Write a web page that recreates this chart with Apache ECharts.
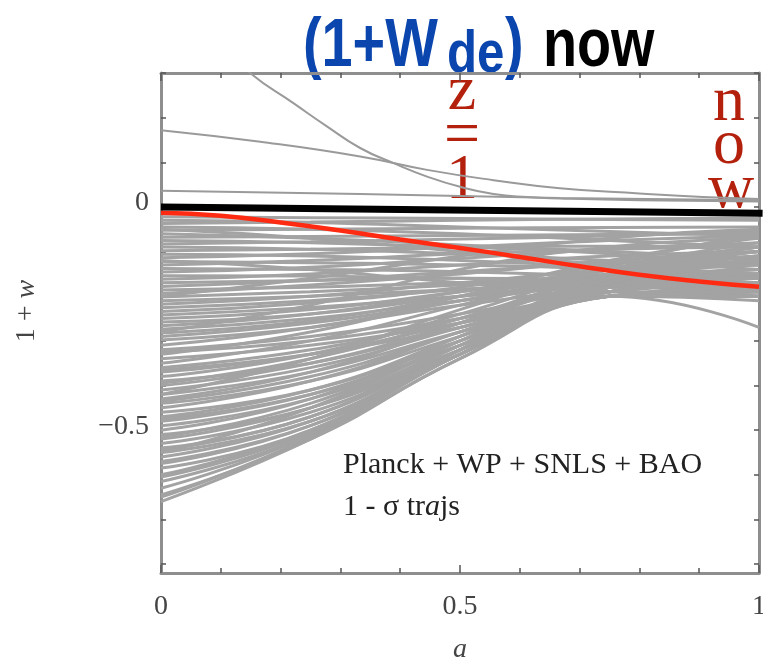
<!DOCTYPE html>
<html>
<head>
<meta charset="utf-8">
<script src="https://cdn.jsdelivr.net/npm/echarts@6/dist/echarts.min.js"></script>
<style>
  html, body { margin: 0; padding: 0; background: #fff; }
  #chart { width: 763px; height: 659px; }
</style>
</head>
<body>
<div id="chart"></div>
<script>
// sample points in a for the bundle of 1-sigma trajectories
const aGrid = [0, 0.25, 0.5, 0.75, 1];

// 1 + w at aGrid (upper, nearly flat group)
const upperTrajs = [
  [-0.022, -0.024, -0.026, -0.028, -0.03],
  [-0.03, -0.035, -0.045, -0.055, -0.065],
  [-0.037, -0.034, -0.03, -0.027, -0.025],
  [-0.045, -0.05, -0.06, -0.075, -0.09],
  [-0.052, -0.05, -0.048, -0.046, -0.045],
  [-0.06, -0.07, -0.085, -0.1, -0.115],
  [-0.068, -0.066, -0.064, -0.062, -0.06],
  [-0.075, -0.08, -0.09, -0.105, -0.13],
  [-0.083, -0.078, -0.072, -0.065, -0.055],
  [-0.09, -0.095, -0.105, -0.12, -0.14],
  [-0.098, -0.095, -0.09, -0.088, -0.09],
  [-0.106, -0.11, -0.12, -0.135, -0.155],
  [-0.114, -0.105, -0.09, -0.075, -0.065],
  [-0.122, -0.125, -0.13, -0.14, -0.16],
  [-0.13, -0.12, -0.105, -0.095, -0.09],
  [-0.138, -0.14, -0.145, -0.155, -0.17],
  [-0.146, -0.135, -0.115, -0.095, -0.08],
  [-0.154, -0.155, -0.16, -0.17, -0.18],
  [-0.162, -0.15, -0.13, -0.11, -0.1],
  [-0.17, -0.165, -0.16, -0.165, -0.185],
  [-0.178, -0.165, -0.145, -0.125, -0.115],
  [-0.186, -0.18, -0.17, -0.165, -0.17],
  [-0.194, -0.175, -0.15, -0.12, -0.1],
  [-0.202, -0.19, -0.175, -0.16, -0.16],
  [-0.21, -0.2, -0.185, -0.175, -0.19],
  [-0.218, -0.2, -0.17, -0.14, -0.125],
  [-0.226, -0.21, -0.185, -0.16, -0.15],
  [-0.234, -0.215, -0.18, -0.13, -0.09],
  [-0.242, -0.225, -0.2, -0.18, -0.2],
  [-0.25, -0.23, -0.19, -0.15, -0.13],
  [-0.258, -0.24, -0.2, -0.17, -0.16],
  [-0.266, -0.24, -0.19, -0.14, -0.11],
  [-0.274, -0.25, -0.21, -0.18, -0.18],
  [-0.282, -0.255, -0.2, -0.15, -0.12],
  [-0.29, -0.26, -0.21, -0.16, -0.14],
  [-0.298, -0.27, -0.22, -0.19, -0.19]
];

// lower group, rising towards the convergence near a ~ 0.75
const lowerTrajs = [
  [-0.31, -0.27, -0.21, -0.15, -0.11],
  [-0.32, -0.29, -0.24, -0.18, -0.15],
  [-0.325, -0.3, -0.25, -0.19, -0.16],
  [-0.33, -0.28, -0.2, -0.12, -0.07],
  [-0.34, -0.31, -0.26, -0.2, -0.18],
  [-0.35, -0.3, -0.22, -0.14, -0.09],
  [-0.36, -0.32, -0.25, -0.17, -0.14],
  [-0.365, -0.33, -0.27, -0.2, -0.19],
  [-0.37, -0.33, -0.26, -0.19, -0.17],
  [-0.38, -0.33, -0.24, -0.14, -0.08],
  [-0.39, -0.35, -0.27, -0.2, -0.2],
  [-0.395, -0.34, -0.25, -0.15, -0.1],
  [-0.4, -0.35, -0.26, -0.16, -0.11],
  [-0.41, -0.36, -0.27, -0.18, -0.15],
  [-0.42, -0.37, -0.28, -0.2, -0.19],
  [-0.43, -0.37, -0.26, -0.15, -0.09],
  [-0.435, -0.38, -0.28, -0.18, -0.14],
  [-0.44, -0.39, -0.29, -0.19, -0.16],
  [-0.45, -0.39, -0.28, -0.17, -0.12],
  [-0.46, -0.41, -0.3, -0.2, -0.19],
  [-0.47, -0.41, -0.29, -0.16, -0.1],
  [-0.475, -0.42, -0.31, -0.2, -0.18],
  [-0.48, -0.42, -0.3, -0.19, -0.17],
  [-0.49, -0.43, -0.31, -0.2, -0.2],
  [-0.5, -0.43, -0.29, -0.16, -0.11],
  [-0.51, -0.45, -0.32, -0.2, -0.18],
  [-0.515, -0.44, -0.3, -0.17, -0.13],
  [-0.52, -0.45, -0.31, -0.18, -0.14],
  [-0.53, -0.46, -0.32, -0.19, -0.16],
  [-0.54, -0.47, -0.31, -0.17, -0.12],
  [-0.545, -0.47, -0.32, -0.19, -0.17],
  [-0.55, -0.48, -0.33, -0.2, -0.19],
  [-0.56, -0.48, -0.32, -0.18, -0.15],
  [-0.57, -0.49, -0.33, -0.2, -0.21],
  [-0.575, -0.49, -0.32, -0.18, -0.14],
  [-0.585, -0.5, -0.32, -0.17, -0.12],
  [-0.6, -0.5, -0.33, -0.19, -0.17],
  [-0.605, -0.505, -0.33, -0.2, -0.19],
  [-0.615, -0.51, -0.33, -0.2, -0.27],
  [-0.63, -0.51, -0.32, -0.17, -0.1],
  [-0.645, -0.52, -0.34, -0.2, -0.2],
  [-0.65, -0.515, -0.33, -0.19, -0.16],
  [-0.66, -0.52, -0.34, -0.2, -0.18]
];

// a few crossing trajectories that break up the regular pattern
const crossTrajs = [
  [-0.12, -0.14, -0.17, -0.19, -0.2],
  [-0.2, -0.16, -0.11, -0.07, -0.05],
  [-0.28, -0.22, -0.14, -0.09, -0.07],
  [-0.05, -0.07, -0.1, -0.13, -0.15],
  [-0.42, -0.34, -0.23, -0.13, -0.06],
  [-0.55, -0.45, -0.3, -0.16, -0.09]
];

// the three trajectories above w = -1
const steepA = [0.12, 0.149, 0.222, 0.278, 0.333, 0.389, 0.445, 0.5, 0.556, 0.612, 0.667, 0.8, 1];
const steepW = [0.345, 0.3, 0.232, 0.18, 0.132, 0.098, 0.068, 0.045, 0.029, 0.022, 0.019, 0.015, 0.012];
const slopeA = [0, 0.166, 0.333, 0.445, 0.556, 0.667, 0.8, 0.906, 1];
const slopeW = [0.172, 0.146, 0.113, 0.083, 0.06, 0.042, 0.03, 0.022, 0.018];
const flatA = [0, 0.333, 0.667, 1];
const flatW = [0.036, 0.029, 0.02, 0.015];

// highlighted (red) trajectory and the LCDM line
const redA = [0, 0.1, 0.2, 0.3, 0.4, 0.5, 0.6, 0.7, 0.8, 0.9, 1];
const redW = [-0.013, -0.02, -0.035, -0.053, -0.073, -0.092, -0.112, -0.133, -0.152, -0.167, -0.179];
const lcdmA = [0, 1.006];
const lcdmW = [0, -0.014];

const yTicks = [-0.8, -0.7, -0.6, -0.5, -0.4, -0.3, -0.2, -0.1, 0, 0.1, 0.2, 0.3];
const yLabels = [-0.5, 0];

const serif = 'Liberation Serif, Times New Roman, serif';
const sans = 'Liberation Sans, Arial, sans-serif';
const frameColor = '#8e8e8e';
const tickColor = '#555';
const grayColor = '#a3a3a3';
const zRed = '#b3200c';

const pairs = (xs, ys) => xs.map((x, i) => [x, ys[i]]);

const series = [];
upperTrajs.concat(lowerTrajs, crossTrajs).forEach(w => {
  series.push({
    type: 'line', data: pairs(aGrid, w), smooth: true, symbol: 'none', silent: true,
    lineStyle: {color: grayColor, width: 3}
  });
});
[[steepA, steepW], [slopeA, slopeW], [flatA, flatW]].forEach(p => {
  series.push({
    type: 'line', data: pairs(p[0], p[1]), smooth: true, symbol: 'none', silent: true,
    lineStyle: {color: '#9a9a9a', width: 2}
  });
});
series.push({
  type: 'line', data: pairs(redA, redW), smooth: true, symbol: 'none', silent: true,
  lineStyle: {color: '#ff2a12', width: 4.5}
});
series.push({
  type: 'line', data: pairs(lcdmA, lcdmW), symbol: 'none', silent: true, clip: false,
  lineStyle: {color: '#000', width: 7}
});

const xBase = {
  type: 'value', min: 0, max: 1, interval: 0.5,
  axisLine: {onZero: false, lineStyle: {color: frameColor, width: 3}},
  axisTick: {inside: true, length: 8, lineStyle: {color: tickColor, width: 1.5}},
  minorTick: {show: true, splitNumber: 5, length: 5, lineStyle: {color: tickColor, width: 1.5}},
  splitLine: {show: false},
  minorSplitLine: {show: false}
};
const yBase = {
  type: 'value', min: -0.82, max: 0.3,
  axisLine: {onZero: false, lineStyle: {color: frameColor, width: 3}},
  axisTick: {inside: true, length: 5, customValues: yTicks, lineStyle: {color: tickColor, width: 1.5}},
  splitLine: {show: false}
};

// title pieces and vertical red labels
const titleBig = (x, text, fill) => ({
  type: 'text', x: x, y: 13, scaleX: 0.82,
  style: {text: text, fontFamily: sans, fontWeight: 'bold', fontSize: 68, fill: fill, verticalAlign: 'top'}
});
const redGlyph = (x, y, text) => ({
  type: 'text', x: x, y: y,
  style: {text: text, fontFamily: serif, fontSize: 64, fill: zRed, align: 'center', verticalAlign: 'middle'}
});

const chart = echarts.init(document.getElementById('chart'), null, {renderer: 'canvas'});
chart.setOption({
  animation: false,
  backgroundColor: '#fff',
  grid: {left: 161, right: 4, top: 73, bottom: 86, containLabel: false, outerBoundsMode: 'none'},
  xAxis: [
    Object.assign({}, xBase, {
      position: 'bottom',
      name: 'a', nameLocation: 'middle', nameGap: 63,
      nameTextStyle: {fontFamily: serif, fontStyle: 'italic', fontSize: 28, color: '#444'},
      axisLabel: {
        fontFamily: serif, fontSize: 28, color: '#444', margin: 20,
        formatter: v => (v === 0 ? '0' : v === 1 ? '1' : String(v))
      }
    }),
    Object.assign({}, xBase, {position: 'top', axisLabel: {show: false}})
  ],
  yAxis: [
    Object.assign({}, yBase, {
      position: 'left',
      name: '{n|1 + }{i|w}', nameLocation: 'middle', nameGap: 120,
      nameTextStyle: {
        fontFamily: serif, fontSize: 28, color: '#444', padding: [0, 0, 0, 24],
        rich: {
          n: {fontFamily: serif, fontSize: 28, color: '#444'},
          i: {fontFamily: serif, fontSize: 28, color: '#444', fontStyle: 'italic'}
        }
      },
      axisLabel: {
        customValues: yLabels, fontFamily: serif, fontSize: 28, color: '#444', margin: 12,
        verticalAlign: 'bottom', lineHeight: 8,
        formatter: v => (v === 0 ? '0' : '\u22120.5')
      }
    }),
    Object.assign({}, yBase, {position: 'right', axisLabel: {show: false}})
  ],
  series: series,
  graphic: [
    titleBig(303, '(1+W', '#0b46ae'),
    {
      type: 'text', x: 447, y: 25, scaleX: 0.82,
      style: {text: 'de', fontFamily: sans, fontWeight: 'bold', fontSize: 60, fill: '#0b46ae', verticalAlign: 'top'}
    },
    titleBig(505, ')', '#0b46ae'),
    titleBig(543, 'now', '#000'),
    redGlyph(462, 92, 'z'),
    redGlyph(462, 137, '='),
    redGlyph(462, 181, '1'),
    redGlyph(729, 103, 'n'),
    redGlyph(729, 146, 'o'),
    redGlyph(731, 190, 'w'),
    {type: 'text', x: 343, y: 465, style: {text: 'Planck + WP + SNLS + BAO', fontFamily: serif, fontSize: 30, fill: '#222', verticalAlign: 'middle'}},
    {type: 'text', x: 343, y: 507, style: {
      text: '{n|1 - \u03c3 tr}{i|a}{n|js}', verticalAlign: 'middle',
      rich: {
        n: {fontFamily: serif, fontSize: 30, fill: '#222', color: '#222'},
        i: {fontFamily: serif, fontSize: 30, fill: '#222', color: '#222', fontStyle: 'italic'}
      }
    }}
  ]
});
</script>
</body>
</html>
